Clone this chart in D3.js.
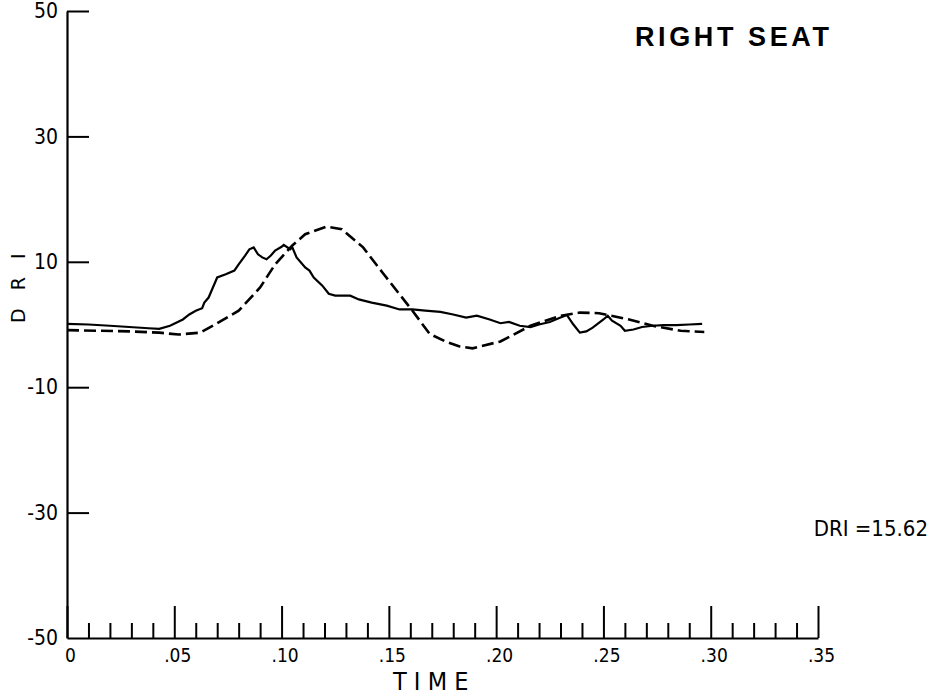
<!DOCTYPE html>
<html><head><meta charset="utf-8">
<script src="https://cdn.jsdelivr.net/npm/d3@7/dist/d3.min.js"></script>
<style>
body{margin:0;background:#fff;}
svg{display:block;}
.narrow{font-family:"DejaVu Sans Condensed","DejaVu Sans",sans-serif;font-stretch:condensed;}
</style></head>
<body>
<script>
// ---- data ----
const smoothTime = [0.000,0.015,0.029,0.043,0.052,0.062,0.069,0.080,0.090,0.097,0.105,0.111,0.121,0.128,0.138,0.147,0.155,0.161,0.169,0.177,0.183,0.189,0.202,0.216,0.230,0.239,0.248,0.262,0.273,0.286,0.297];
const smoothDRI  = [-0.9,-1.0,-1.1,-1.3,-1.6,-1.3,0.0,2.2,5.9,9.6,12.6,14.4,15.6,15.2,12.3,8.3,4.8,2.2,-1.5,-2.8,-3.5,-3.8,-2.7,-0.2,1.4,1.9,1.8,0.8,-0.2,-1.0,-1.2];

const noisyTime = [0.000,0.010,0.020,0.029,0.038,0.043,0.048,0.054,0.057,0.060,0.063,0.064,0.066,0.068,0.069,0.070,0.074,0.078,0.080,0.083,0.085,0.087,0.089,0.091,0.093,0.095,0.097,0.100,0.101,0.104,0.105,0.107,0.111,0.113,0.115,0.119,0.122,0.125,0.132,0.136,0.142,0.149,0.155,0.161,0.167,0.174,0.180,0.186,0.191,0.197,0.202,0.206,0.211,0.216,0.220,0.225,0.230,0.233,0.236,0.239,0.242,0.245,0.250,0.252,0.254,0.258,0.260,0.264,0.268,0.273,0.278,0.284,0.290,0.296];
const noisyDRI  = [0.1,0.0,-0.2,-0.4,-0.6,-0.7,-0.2,0.8,1.6,2.2,2.6,3.5,4.3,5.9,6.7,7.5,8.0,8.6,9.6,11.0,12.0,12.3,11.2,10.7,10.4,11.0,11.8,12.4,12.7,12.0,12.3,10.7,9.1,8.6,7.5,6.2,4.9,4.6,4.6,4.0,3.5,3.0,2.4,2.4,2.2,2.0,1.6,1.1,1.4,0.8,0.2,0.4,-0.2,-0.4,0.0,0.4,1.1,1.5,0.0,-1.3,-1.1,-0.5,0.8,1.4,0.6,-0.2,-1.0,-0.8,-0.4,-0.2,-0.1,-0.1,0.0,0.1];

const yTicks = [50,30,10,-10,-30,-50];
const yTickLabels = ["50","30","10","-10","-30","-50"];
const xMajorTicks = [0,0.05,0.10,0.15,0.20,0.25,0.30,0.35];
const xMajorLabels = ["0",".05",".10",".15",".20",".25",".30",".35"];
const xMinorTicks = [0.01,0.02,0.03,0.04,0.06,0.07,0.08,0.09,0.11,0.12,0.13,0.14,0.16,0.17,0.18,0.19,0.21,0.22,0.23,0.24,0.26,0.27,0.28,0.29,0.31,0.32,0.33,0.34];

const titleText = "RIGHT SEAT";
const xTitle = "T I M E";
const yTitle = "D R I";
const driNote = "DRI =15.62";

// ---- chart ----
const W = 939, H = 698;
const svg = d3.select("body").append("svg").attr("width", W).attr("height", H);

const x = d3.scaleLinear().domain([0, 0.35]).range([67, 818]);
const y = d3.scaleLinear().domain([-50, 50]).range([638, 11]);

// x axis (major + minor ticks pointing up)
const xAxisMajor = d3.axisBottom(x).tickValues(xMajorTicks)
  .tickFormat((d,i) => xMajorLabels[i]).tickSize(-32).tickSizeOuter(0).tickPadding(11);
const gx = svg.append("g").attr("transform", `translate(0,${y(-50)})`).call(xAxisMajor);
gx.attr("font-size", 19).attr("font-family", null);
gx.select(".domain").attr("stroke-width", 2);
gx.selectAll(".tick line").attr("stroke-width", 2);
gx.selectAll("text").attr("class","narrow").attr("fill","#000").attr("dx", 3);

const xAxisMinor = d3.axisBottom(x).tickValues(xMinorTicks).tickFormat("").tickSize(-15).tickSizeOuter(0);
const gxm = svg.append("g").attr("transform", `translate(0,${y(-50)})`).call(xAxisMinor);
gxm.select(".domain").remove();
gxm.selectAll(".tick line").attr("stroke-width", 2);

// y axis
const yAxis = d3.axisLeft(y).tickValues(yTicks).tickFormat((d,i) => yTickLabels[i])
  .tickSize(-22).tickSizeOuter(0).tickPadding(9);
const gy = svg.append("g").attr("transform", `translate(${x(0)},0)`).call(yAxis);
gy.attr("font-size", 21).attr("font-family", null);
gy.select(".domain").attr("stroke-width", 2.2);
gy.selectAll(".tick line").attr("stroke-width", 2);
gy.selectAll(".tick").filter(d => d === -50).select("line").remove();
gy.selectAll("text").attr("class","narrow").attr("fill","#000");

// lines
const line = d3.line().x(d => x(d[0])).y(d => y(d[1]));
const smooth = smoothTime.map((t,i) => [t, smoothDRI[i]]);
const noisy = noisyTime.map((t,i) => [t, noisyDRI[i]]);

svg.append("path").datum(smooth).attr("d", line)
  .attr("fill","none").attr("stroke","#000").attr("stroke-width",2.6)
  .attr("stroke-dasharray","12,5");
svg.append("path").datum(noisy).attr("d", line)
  .attr("fill","none").attr("stroke","#000").attr("stroke-width",2.2);

// texts
svg.append("text").text(titleText).attr("x", 635).attr("y", 46)
  .attr("font-family","Liberation Sans, Arial, sans-serif").attr("font-weight","bold")
  .attr("font-size", 27).attr("letter-spacing", 3.6);

svg.append("text").text(xTitle).attr("class","narrow").attr("x", 393).attr("y", 690)
  .attr("font-size", 25);

svg.append("text").text(yTitle).attr("transform","translate(25,323) rotate(-90)")
  .attr("font-family","DejaVu Sans, sans-serif").attr("font-size", 19)
  .attr("letter-spacing", 6);

svg.append("text").text(driNote).attr("class","narrow").attr("x", 928).attr("y", 536)
  .attr("text-anchor","end").attr("font-size", 22);
</script>
</body></html>
